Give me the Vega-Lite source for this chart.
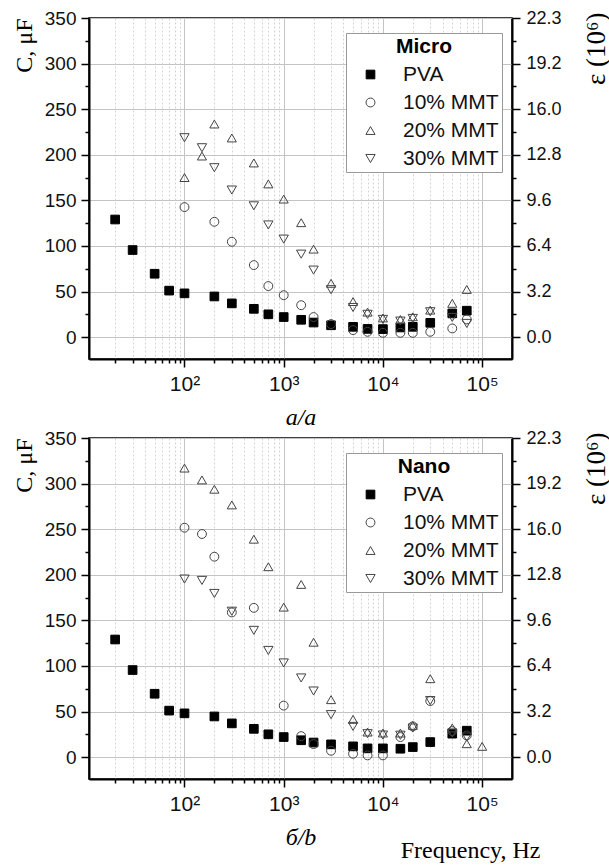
{
  "$schema": "https://vega.github.io/schema/vega-lite/v6.json",
  "background": "white",
  "padding": {"left": 11, "top": 8, "right": 0, "bottom": 0},
  "datasets": {
    "micro": [
      {"f":20,"C":129,"s":"PVA"},{"f":30,"C":95.5,"s":"PVA"},{"f":50,"C":69.5,"s":"PVA"},{"f":70,"C":51,"s":"PVA"},{"f":100,"C":48,"s":"PVA"},{"f":200,"C":44.6,"s":"PVA"},{"f":300,"C":37,"s":"PVA"},{"f":500,"C":31,"s":"PVA"},{"f":700,"C":25,"s":"PVA"},{"f":1000,"C":22,"s":"PVA"},{"f":1500,"C":19,"s":"PVA"},{"f":2000,"C":16,"s":"PVA"},{"f":3000,"C":13,"s":"PVA"},{"f":5000,"C":11.3,"s":"PVA"},{"f":7000,"C":9,"s":"PVA"},{"f":10000,"C":8.8,"s":"PVA"},{"f":15000,"C":10.6,"s":"PVA"},{"f":20000,"C":11.3,"s":"PVA"},{"f":30000,"C":15.7,"s":"PVA"},{"f":50000,"C":26,"s":"PVA"},{"f":70000,"C":29,"s":"PVA"},
      {"f":100,"C":142.6,"s":"10% MMT"},{"f":200,"C":126.5,"s":"10% MMT"},{"f":300,"C":104.6,"s":"10% MMT"},{"f":500,"C":79,"s":"10% MMT"},{"f":700,"C":56,"s":"10% MMT"},{"f":1000,"C":46,"s":"10% MMT"},{"f":1500,"C":35,"s":"10% MMT"},{"f":2000,"C":22,"s":"10% MMT"},{"f":3000,"C":14.3,"s":"10% MMT"},{"f":5000,"C":7.7,"s":"10% MMT"},{"f":7000,"C":5.8,"s":"10% MMT"},{"f":10000,"C":4.7,"s":"10% MMT"},{"f":15000,"C":4.7,"s":"10% MMT"},{"f":20000,"C":4.7,"s":"10% MMT"},{"f":30000,"C":5.8,"s":"10% MMT"},{"f":50000,"C":9.5,"s":"10% MMT"},{"f":70000,"C":19.4,"s":"10% MMT"},
      {"f":100,"C":175,"s":"20% MMT"},{"f":150,"C":198.6,"s":"20% MMT"},{"f":200,"C":233.7,"s":"20% MMT"},{"f":300,"C":218.4,"s":"20% MMT"},{"f":500,"C":191,"s":"20% MMT"},{"f":700,"C":168,"s":"20% MMT"},{"f":1000,"C":151.4,"s":"20% MMT"},{"f":1500,"C":125.5,"s":"20% MMT"},{"f":2000,"C":96.5,"s":"20% MMT"},{"f":3000,"C":59,"s":"20% MMT"},{"f":5000,"C":39,"s":"20% MMT"},{"f":7000,"C":27.4,"s":"20% MMT"},{"f":10000,"C":21,"s":"20% MMT"},{"f":15000,"C":19.4,"s":"20% MMT"},{"f":20000,"C":22.3,"s":"20% MMT"},{"f":30000,"C":29.6,"s":"20% MMT"},{"f":50000,"C":37,"s":"20% MMT"},{"f":70000,"C":52.3,"s":"20% MMT"},
      {"f":100,"C":218.7,"s":"30% MMT"},{"f":150,"C":207.7,"s":"30% MMT"},{"f":200,"C":185.8,"s":"30% MMT"},{"f":300,"C":161.3,"s":"30% MMT"},{"f":500,"C":144,"s":"30% MMT"},{"f":700,"C":123,"s":"30% MMT"},{"f":1000,"C":107.5,"s":"30% MMT"},{"f":1500,"C":91,"s":"30% MMT"},{"f":2000,"C":73.5,"s":"30% MMT"},{"f":3000,"C":52,"s":"30% MMT"},{"f":5000,"C":32.5,"s":"30% MMT"},{"f":7000,"C":25,"s":"30% MMT"},{"f":10000,"C":19.4,"s":"30% MMT"},{"f":15000,"C":17.6,"s":"30% MMT"},{"f":20000,"C":20.5,"s":"30% MMT"},{"f":30000,"C":27.8,"s":"30% MMT"},{"f":50000,"C":21.6,"s":"30% MMT"},{"f":70000,"C":15,"s":"30% MMT"}
    ],
    "nano": [
      {"f":20,"C":129,"s":"PVA"},{"f":30,"C":95.5,"s":"PVA"},{"f":50,"C":69.5,"s":"PVA"},{"f":70,"C":51,"s":"PVA"},{"f":100,"C":48,"s":"PVA"},{"f":200,"C":44.6,"s":"PVA"},{"f":300,"C":37,"s":"PVA"},{"f":500,"C":31,"s":"PVA"},{"f":700,"C":25,"s":"PVA"},{"f":1000,"C":22,"s":"PVA"},{"f":1500,"C":18.5,"s":"PVA"},{"f":2000,"C":16,"s":"PVA"},{"f":3000,"C":14,"s":"PVA"},{"f":5000,"C":11.8,"s":"PVA"},{"f":7000,"C":9.6,"s":"PVA"},{"f":10000,"C":9.6,"s":"PVA"},{"f":15000,"C":9.2,"s":"PVA"},{"f":20000,"C":11,"s":"PVA"},{"f":30000,"C":16.5,"s":"PVA"},{"f":50000,"C":25.7,"s":"PVA"},{"f":70000,"C":29,"s":"PVA"},
      {"f":100,"C":251.6,"s":"10% MMT"},{"f":150,"C":244.7,"s":"10% MMT"},{"f":200,"C":219.8,"s":"10% MMT"},{"f":300,"C":158.7,"s":"10% MMT"},{"f":500,"C":163.7,"s":"10% MMT"},{"f":1000,"C":56.5,"s":"10% MMT"},{"f":1500,"C":23,"s":"10% MMT"},{"f":2000,"C":14.3,"s":"10% MMT"},{"f":3000,"C":7,"s":"10% MMT"},{"f":5000,"C":3.7,"s":"10% MMT"},{"f":7000,"C":1.9,"s":"10% MMT"},{"f":10000,"C":1.9,"s":"10% MMT"},{"f":15000,"C":22,"s":"10% MMT"},{"f":20000,"C":33.7,"s":"10% MMT"},{"f":30000,"C":61.5,"s":"10% MMT"},{"f":50000,"C":28.6,"s":"10% MMT"},{"f":70000,"C":23.8,"s":"10% MMT"},
      {"f":100,"C":317,"s":"20% MMT"},{"f":150,"C":304,"s":"20% MMT"},{"f":200,"C":293.8,"s":"20% MMT"},{"f":300,"C":276.6,"s":"20% MMT"},{"f":500,"C":239,"s":"20% MMT"},{"f":700,"C":208.8,"s":"20% MMT"},{"f":1000,"C":164.5,"s":"20% MMT"},{"f":1500,"C":189.4,"s":"20% MMT"},{"f":2000,"C":126,"s":"20% MMT"},{"f":3000,"C":63,"s":"20% MMT"},{"f":5000,"C":41.4,"s":"20% MMT"},{"f":7000,"C":27.5,"s":"20% MMT"},{"f":10000,"C":26.4,"s":"20% MMT"},{"f":15000,"C":26.4,"s":"20% MMT"},{"f":20000,"C":34.8,"s":"20% MMT"},{"f":30000,"C":86,"s":"20% MMT"},{"f":50000,"C":32,"s":"20% MMT"},{"f":70000,"C":14.7,"s":"20% MMT"},{"f":100000,"C":11.8,"s":"20% MMT"},
      {"f":100,"C":195.3,"s":"30% MMT"},{"f":150,"C":193.8,"s":"30% MMT"},{"f":200,"C":179.5,"s":"30% MMT"},{"f":300,"C":160,"s":"30% MMT"},{"f":500,"C":139,"s":"30% MMT"},{"f":700,"C":117,"s":"30% MMT"},{"f":1000,"C":103.3,"s":"30% MMT"},{"f":1500,"C":86.8,"s":"30% MMT"},{"f":2000,"C":72.5,"s":"30% MMT"},{"f":3000,"C":46.6,"s":"30% MMT"},{"f":5000,"C":33.7,"s":"30% MMT"},{"f":7000,"C":25.7,"s":"30% MMT"},{"f":10000,"C":24.2,"s":"30% MMT"},{"f":15000,"C":24,"s":"30% MMT"},{"f":20000,"C":31.9,"s":"30% MMT"},{"f":30000,"C":62,"s":"30% MMT"},{"f":50000,"C":26.4,"s":"30% MMT"},{"f":70000,"C":22,"s":"30% MMT"}
    ]
  },
  "vconcat": [
    {
      "width": 423, "height": 341,
      "data": {"name": "micro"},
      "layer": [
        {
          "mark": {"type": "point", "strokeWidth": 1, "opacity": 1},
          "encoding": {
            "x": {"field": "f", "type": "quantitative", "scale": {"type": "log", "domain": [10.9, 200000]},
              "axis": {"orient": "bottom", "values": [100, 1000, 10000, 100000], "labelExpr": "datum.value==100?'10²':datum.value==1000?'10³':datum.value==10000?'10⁴':'10⁵'", "labelFontSize": 21, "tickSize": 8, "labelPadding": 6, "labelFlush": false, "labelOverlap": false, "title": "a/a", "titleFontSize": 24, "titleFontStyle": "italic", "titlePadding": 11, "grid": true}},
            "y": {"field": "C", "type": "quantitative", "scale": {"domain": [-24, 350], "nice": false, "zero": false},
              "axis": {"orient": "left", "values": [0, 50, 100, 150, 200, 250, 300, 350], "labelFontSize": 19, "tickSize": 8, "labelPadding": 5, "title": "C, μF", "titleFontSize": 24, "titleAnchor": "end", "titleAlign": "right", "titlePadding": 8, "grid": true}},
            "shape": {"field": "s", "type": "nominal", "scale": {"domain": ["PVA", "10% MMT", "20% MMT", "30% MMT"], "range": ["square", "circle", "triangle-up", "triangle-down"]},
              "legend": {"title": "Micro", "orient": "none", "legendX": 257, "legendY": 15, "titleFont": "Liberation Sans", "titleFontSize": 21, "titleFontWeight": "bold", "titleColor": "black", "titleAnchor": "middle", "titlePadding": 7, "labelFont": "Liberation Sans", "labelFontSize": 21, "labelColor": "#111", "symbolStrokeWidth": 1, "symbolOffset": 11, "labelOffset": 22, "rowPadding": 6, "padding": 3, "strokeColor": "#999", "fillColor": "white"}},
            "fill": {"field": "s", "type": "nominal", "scale": {"domain": ["PVA", "10% MMT", "20% MMT", "30% MMT"], "range": ["black", "transparent", "transparent", "transparent"]}, "legend": {"title": "Micro"}},
            "stroke": {"field": "s", "type": "nominal", "scale": {"domain": ["PVA", "10% MMT", "20% MMT", "30% MMT"], "range": ["black", "#444", "#444", "#444"]}, "legend": {"title": "Micro"}},
            "size": {"field": "s", "type": "nominal", "scale": {"domain": ["PVA", "10% MMT", "20% MMT", "30% MMT"], "range": [75, 87, 128, 128]}, "legend": {"title": "Micro"}}
          }
        },
        {
          "mark": {"type": "point", "opacity": 0},
          "encoding": {
            "x": {"field": "f", "type": "quantitative", "scale": {"type": "log", "domain": [10.9, 200000]},
              "axis": {"orient": "bottom", "values": [20,30,40,50,60,70,80,90,200,300,400,500,600,700,800,900,2000,3000,4000,5000,6000,7000,8000,9000,20000,30000,40000,50000,60000,70000,80000,90000], "labels": false, "tickSize": 4, "domain": false, "grid": true, "gridDash": [2, 2], "gridColor": "#d4d4d4", "title": null}},
            "y": {"field": "C", "type": "quantitative", "scale": {"domain": [-24, 350], "nice": false, "zero": false},
              "axis": {"orient": "left", "values": [25, 75, 125, 175, 225, 275, 325], "labels": false, "tickSize": 4, "domain": false, "grid": false, "title": null}}
          }
        },
        {
          "mark": {"type": "point", "opacity": 0},
          "encoding": {
            "x": {"field": "f", "type": "quantitative", "scale": {"type": "log", "domain": [10.9, 200000]}, "axis": null},
            "y": {"field": "C", "type": "quantitative", "scale": {"domain": [-24, 350], "nice": false, "zero": false},
              "axis": {"orient": "right", "values": [0, 50, 100, 150, 200, 250, 300, 350], "labelExpr": "datum.value==350?'22.3':format(datum.value*0.064,'.1f')", "labelFontSize": 18, "tickSize": 8, "labelPadding": 6, "grid": false, "title": "ε  (10⁶)", "titleFontSize": 27, "titleAngle": -90, "titleAnchor": "end", "titleAlign": "right", "titleBaseline": "top", "titlePadding": 22, "titleY": -6}}
          }
        },
        {
          "mark": {"type": "point", "opacity": 0},
          "encoding": {
            "x": {"field": "f", "type": "quantitative", "scale": {"type": "log", "domain": [10.9, 200000]}, "axis": null},
            "y": {"field": "C", "type": "quantitative", "scale": {"domain": [-24, 350], "nice": false, "zero": false},
              "axis": {"orient": "right", "values": [25, 75, 125, 175, 225, 275, 325], "labels": false, "tickSize": 4, "domain": false, "grid": false, "title": null}}
          }
        }
      ],
      "resolve": {"axis": {"x": "independent", "y": "independent"}}
    },
    {
      "width": 423, "height": 341,
      "data": {"name": "nano"},
      "layer": [
        {
          "mark": {"type": "point", "strokeWidth": 1, "opacity": 1},
          "encoding": {
            "x": {"field": "f", "type": "quantitative", "scale": {"type": "log", "domain": [10.9, 200000]},
              "axis": {"orient": "bottom", "values": [100, 1000, 10000, 100000], "labelExpr": "datum.value==100?'10²':datum.value==1000?'10³':datum.value==10000?'10⁴':'10⁵'", "labelFontSize": 21, "tickSize": 8, "labelPadding": 6, "labelFlush": false, "labelOverlap": false, "title": "б/b", "titleFontSize": 24, "titleFontStyle": "italic", "titlePadding": 11, "grid": true}},
            "y": {"field": "C", "type": "quantitative", "scale": {"domain": [-24, 350], "nice": false, "zero": false},
              "axis": {"orient": "left", "values": [0, 50, 100, 150, 200, 250, 300, 350], "labelFontSize": 19, "tickSize": 8, "labelPadding": 5, "title": "C, μF", "titleFontSize": 24, "titleAnchor": "end", "titleAlign": "right", "titlePadding": 8, "grid": true}},
            "shape": {"field": "s", "type": "nominal", "scale": {"domain": ["PVA", "10% MMT", "20% MMT", "30% MMT"], "range": ["square", "circle", "triangle-up", "triangle-down"]},
              "legend": {"title": "Nano", "orient": "none", "legendX": 257, "legendY": 15, "titleFont": "Liberation Sans", "titleFontSize": 21, "titleFontWeight": "bold", "titleColor": "black", "titleAnchor": "middle", "titlePadding": 7, "labelFont": "Liberation Sans", "labelFontSize": 21, "labelColor": "#111", "symbolStrokeWidth": 1, "symbolOffset": 11, "labelOffset": 22, "rowPadding": 6, "padding": 3, "strokeColor": "#999", "fillColor": "white"}},
            "fill": {"field": "s", "type": "nominal", "scale": {"domain": ["PVA", "10% MMT", "20% MMT", "30% MMT"], "range": ["black", "transparent", "transparent", "transparent"]}, "legend": {"title": "Nano"}},
            "stroke": {"field": "s", "type": "nominal", "scale": {"domain": ["PVA", "10% MMT", "20% MMT", "30% MMT"], "range": ["black", "#444", "#444", "#444"]}, "legend": {"title": "Nano"}},
            "size": {"field": "s", "type": "nominal", "scale": {"domain": ["PVA", "10% MMT", "20% MMT", "30% MMT"], "range": [75, 87, 128, 128]}, "legend": {"title": "Nano"}}
          }
        },
        {
          "mark": {"type": "point", "opacity": 0},
          "encoding": {
            "x": {"field": "f", "type": "quantitative", "scale": {"type": "log", "domain": [10.9, 200000]},
              "axis": {"orient": "bottom", "values": [20,30,40,50,60,70,80,90,200,300,400,500,600,700,800,900,2000,3000,4000,5000,6000,7000,8000,9000,20000,30000,40000,50000,60000,70000,80000,90000], "labels": false, "tickSize": 4, "domain": false, "grid": true, "gridDash": [2, 2], "gridColor": "#d4d4d4", "title": "Frequency, Hz", "titleFontSize": 24, "titleFontStyle": "normal", "titleAnchor": null, "titleX": 451, "titleY": 78, "titleAlign": "right", "titleBaseline": "alphabetic"}},
            "y": {"field": "C", "type": "quantitative", "scale": {"domain": [-24, 350], "nice": false, "zero": false},
              "axis": {"orient": "left", "values": [25, 75, 125, 175, 225, 275, 325], "labels": false, "tickSize": 4, "domain": false, "grid": false, "title": null}}
          }
        },
        {
          "mark": {"type": "point", "opacity": 0},
          "encoding": {
            "x": {"field": "f", "type": "quantitative", "scale": {"type": "log", "domain": [10.9, 200000]}, "axis": null},
            "y": {"field": "C", "type": "quantitative", "scale": {"domain": [-24, 350], "nice": false, "zero": false},
              "axis": {"orient": "right", "values": [0, 50, 100, 150, 200, 250, 300, 350], "labelExpr": "datum.value==350?'22.3':format(datum.value*0.064,'.1f')", "labelFontSize": 18, "tickSize": 8, "labelPadding": 6, "grid": false, "title": "ε  (10⁶)", "titleFontSize": 27, "titleAngle": -90, "titleAnchor": "end", "titleAlign": "right", "titleBaseline": "top", "titlePadding": 22, "titleY": -6}}
          }
        },
        {
          "mark": {"type": "point", "opacity": 0},
          "encoding": {
            "x": {"field": "f", "type": "quantitative", "scale": {"type": "log", "domain": [10.9, 200000]}, "axis": null},
            "y": {"field": "C", "type": "quantitative", "scale": {"domain": [-24, 350], "nice": false, "zero": false},
              "axis": {"orient": "right", "values": [25, 75, 125, 175, 225, 275, 325], "labels": false, "tickSize": 4, "domain": false, "grid": false, "title": null}}
          }
        }
      ],
      "resolve": {"axis": {"x": "independent", "y": "independent"}}
    }
  ],
  "spacing": 79,
  "bounds": "flush",
  "resolve": {
    "scale": {"shape": "independent", "fill": "independent", "stroke": "independent", "size": "independent"},
    "legend": {"shape": "independent", "fill": "independent", "stroke": "independent", "size": "independent"}
  },
  "config": {
    "view": {"stroke": "black", "strokeWidth": 1.5},
    "axis": {"labelFont": "Liberation Sans", "titleFont": "Liberation Serif", "titleFontWeight": "normal", "titleColor": "black", "labelColor": "#111", "domainColor": "black", "domainWidth": 2, "tickColor": "black", "tickWidth": 1.5, "gridColor": "#c4c4c4", "gridWidth": 1}
  }
}
